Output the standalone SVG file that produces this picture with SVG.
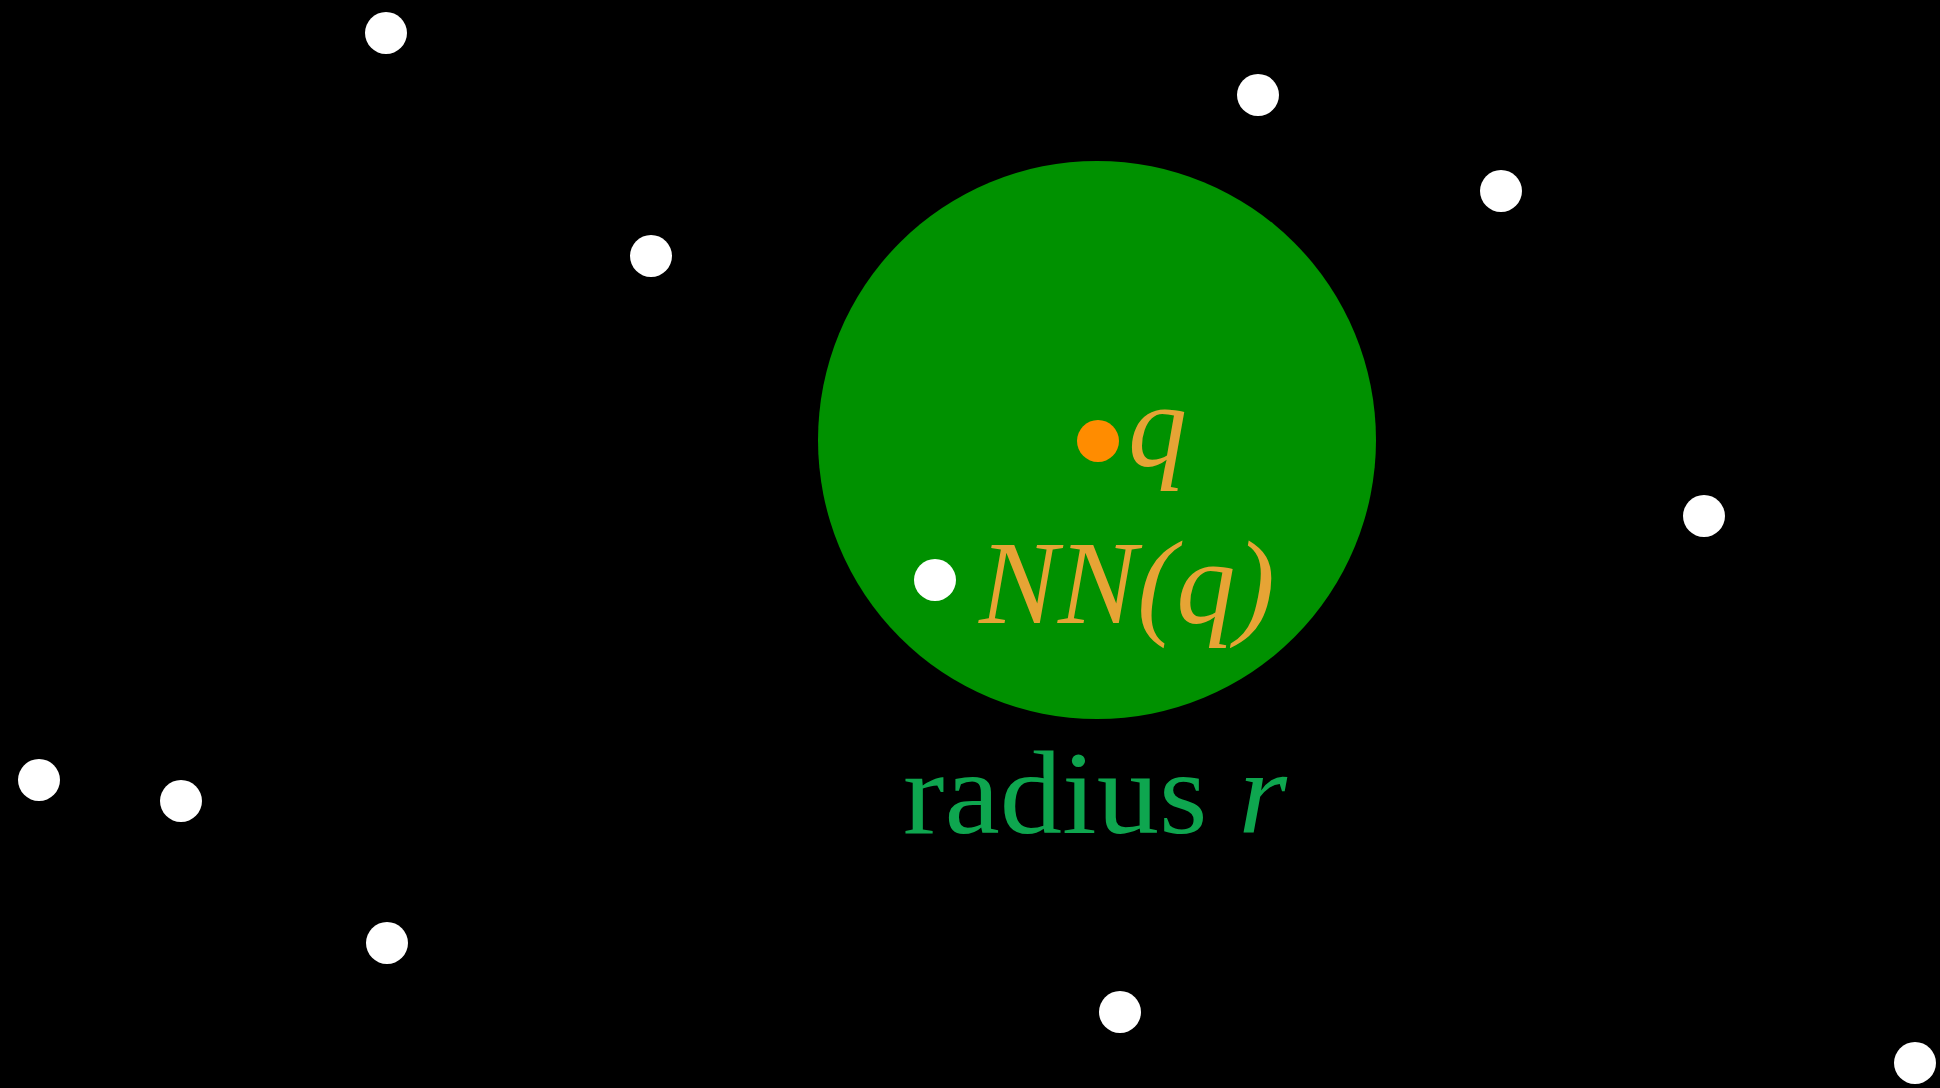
<svg xmlns="http://www.w3.org/2000/svg" width="1940" height="1088" viewBox="0 0 1940 1088">
<style>
.pt{fill:#ffffff}
.lbl{font-family:"Liberation Serif","DejaVu Serif",serif;font-size:118px;fill:#e6a435}
.it{font-style:italic}
.rad{font-family:"Liberation Serif","DejaVu Serif",serif;font-size:118px;fill:#0ea64f}
</style>
<rect width="1940" height="1088" fill="#000000"/>
<g id="range"><circle cx="1097" cy="440" r="279" fill="#009100"/></g>
<g id="points">
<circle class="pt" cx="386" cy="33" r="21"/>
<circle class="pt" cx="1258" cy="95" r="21"/>
<circle class="pt" cx="1501" cy="191" r="21"/>
<circle class="pt" cx="651" cy="256" r="21"/>
<circle class="pt" cx="1704" cy="516" r="21"/>
<circle class="pt" cx="39" cy="780" r="21"/>
<circle class="pt" cx="181" cy="801" r="21"/>
<circle class="pt" cx="387" cy="943" r="21"/>
<circle class="pt" cx="1120" cy="1012" r="21"/>
<circle class="pt" cx="1915" cy="1063" r="21"/>
</g>
<g id="query"><circle cx="1098" cy="441" r="21" fill="#ff8c00"/><text class="lbl it" x="1128" y="466" font-size="124">q</text></g>
<g id="nn"><circle class="pt" cx="935" cy="580" r="21"/><text class="lbl it" x="979" y="623" textLength="296" lengthAdjust="spacingAndGlyphs">NN(q)</text></g>
<g id="radius"><text class="rad" x="903" y="833" textLength="384" lengthAdjust="spacingAndGlyphs">radius <tspan class="it">r</tspan></text></g>
<g id="connectors"/>
</svg>
